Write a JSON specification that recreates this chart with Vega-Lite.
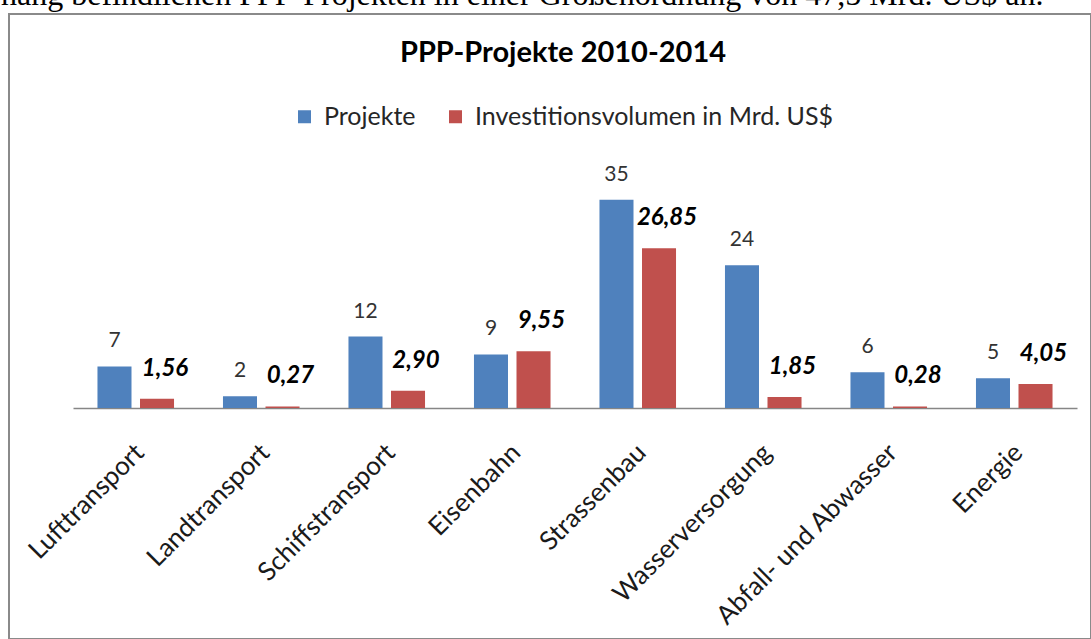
{
  "$schema": "https://vega.github.io/schema/vega-lite/v6.json",
  "autosize": {"type": "none"},
  "width": 1082,
  "height": 625,
  "padding": {"left": 9, "top": 14, "right": 0, "bottom": 0},
  "background": "white",
  "config": {
    "view": {"stroke": "#8a8a8a", "strokeWidth": 2},
    "font": "Lato",
    "locale": {"number": {"decimal": ",", "thousands": ".", "grouping": [3], "currency": ["", "$"]}}
  },
  "title": {
    "text": "hang befindlichen PPP-Projekten in einer Größenordnung von 47,5 Mrd. US$ an.",
    "anchor": "start",
    "orient": "top",
    "offset": -23,
    "baseline": "alphabetic",
    "dx": -8,
    "limit": 2000,
    "font": "Liberation Serif",
    "fontSize": 32,
    "fontWeight": "normal",
    "color": "#000000"
  },
  "data": {
    "values": [
      {"Kategorie": "Lufttransport", "Serie": "Projekte", "Wert": 7},
      {"Kategorie": "Lufttransport", "Serie": "Investitionsvolumen in Mrd. US$", "Wert": 1.56},
      {"Kategorie": "Landtransport", "Serie": "Projekte", "Wert": 2},
      {"Kategorie": "Landtransport", "Serie": "Investitionsvolumen in Mrd. US$", "Wert": 0.27},
      {"Kategorie": "Schiffstransport", "Serie": "Projekte", "Wert": 12},
      {"Kategorie": "Schiffstransport", "Serie": "Investitionsvolumen in Mrd. US$", "Wert": 2.90},
      {"Kategorie": "Eisenbahn", "Serie": "Projekte", "Wert": 9},
      {"Kategorie": "Eisenbahn", "Serie": "Investitionsvolumen in Mrd. US$", "Wert": 9.55},
      {"Kategorie": "Strassenbau", "Serie": "Projekte", "Wert": 35},
      {"Kategorie": "Strassenbau", "Serie": "Investitionsvolumen in Mrd. US$", "Wert": 26.85},
      {"Kategorie": "Wasserversorgung", "Serie": "Projekte", "Wert": 24},
      {"Kategorie": "Wasserversorgung", "Serie": "Investitionsvolumen in Mrd. US$", "Wert": 1.85},
      {"Kategorie": "Abfall- und Abwasser", "Serie": "Projekte", "Wert": 6},
      {"Kategorie": "Abfall- und Abwasser", "Serie": "Investitionsvolumen in Mrd. US$", "Wert": 0.28},
      {"Kategorie": "Energie", "Serie": "Projekte", "Wert": 5},
      {"Kategorie": "Energie", "Serie": "Investitionsvolumen in Mrd. US$", "Wert": 4.05}
    ]
  },
  "encoding": {
    "x": {
      "field": "Kategorie",
      "type": "nominal",
      "sort": null,
      "scale": {"range": [64, 1068], "paddingInner": 0.39, "paddingOuter": 0.195},
      "axis": {
        "title": null,
        "orient": "bottom",
        "offset": -231,
        "labelAngle": -45,
        "labelFont": "Lato",
        "labelFontSize": 26,
        "labelColor": "#1a1a1a",
        "labelPadding": 31,
        "labelOffset": -5,
        "labelLimit": 500,
        "ticks": false,
        "grid": false,
        "domainColor": "#868686",
        "domainWidth": 1.5
      }
    },
    "xOffset": {
      "field": "Serie",
      "type": "nominal",
      "sort": ["Projekte", "Investitionsvolumen in Mrd. US$"],
      "scale": {"paddingInner": 0.2, "paddingOuter": 0}
    },
    "y": {
      "field": "Wert",
      "type": "quantitative",
      "scale": {"domain": [-38.8, 66.2], "nice": false, "zero": false},
      "axis": null
    }
  },
  "layer": [
    {
      "mark": {"type": "bar"},
      "encoding": {
        "color": {
          "field": "Serie",
          "type": "nominal",
          "scale": {"domain": ["Projekte", "Investitionsvolumen in Mrd. US$"], "range": ["#4F81BD", "#C0504D"]},
          "legend": {
            "orient": "none",
            "legendX": 283,
            "legendY": 25,
            "direction": "horizontal",
            "title": "PPP-Projekte 2010-2014",
            "titleFont": "Lato",
            "titleFontSize": 29,
            "titleFontWeight": "bold",
            "titleColor": "#000000",
            "titleAnchor": "middle",
            "titleLimit": 800,
            "titlePadding": 36,
            "labelFont": "Lato",
            "labelFontSize": 25,
            "labelColor": "#262626",
            "labelLimit": 600,
            "symbolType": "square",
            "symbolSize": 169,
            "symbolStrokeWidth": 0,
            "symbolOpacity": 1,
            "labelOffset": 7,
            "columnPadding": 27
          }
        }
      }
    },
    {
      "transform": [{"filter": "datum.Serie == 'Projekte'"}],
      "mark": {"type": "text", "dy": -25, "fontSize": 21, "color": "#333333", "font": "Lato"},
      "encoding": {"text": {"field": "Wert", "type": "quantitative", "format": "d"}}
    },
    {
      "transform": [{"filter": "datum.Serie != 'Projekte'"}],
      "mark": {"type": "text", "dx": 8, "dy": -30, "fontSize": 24, "fontWeight": "bold", "fontStyle": "italic", "color": "#000000", "font": "Lato"},
      "encoding": {"text": {"field": "Wert", "type": "quantitative", "format": ".2f"}}
    }
  ]
}
